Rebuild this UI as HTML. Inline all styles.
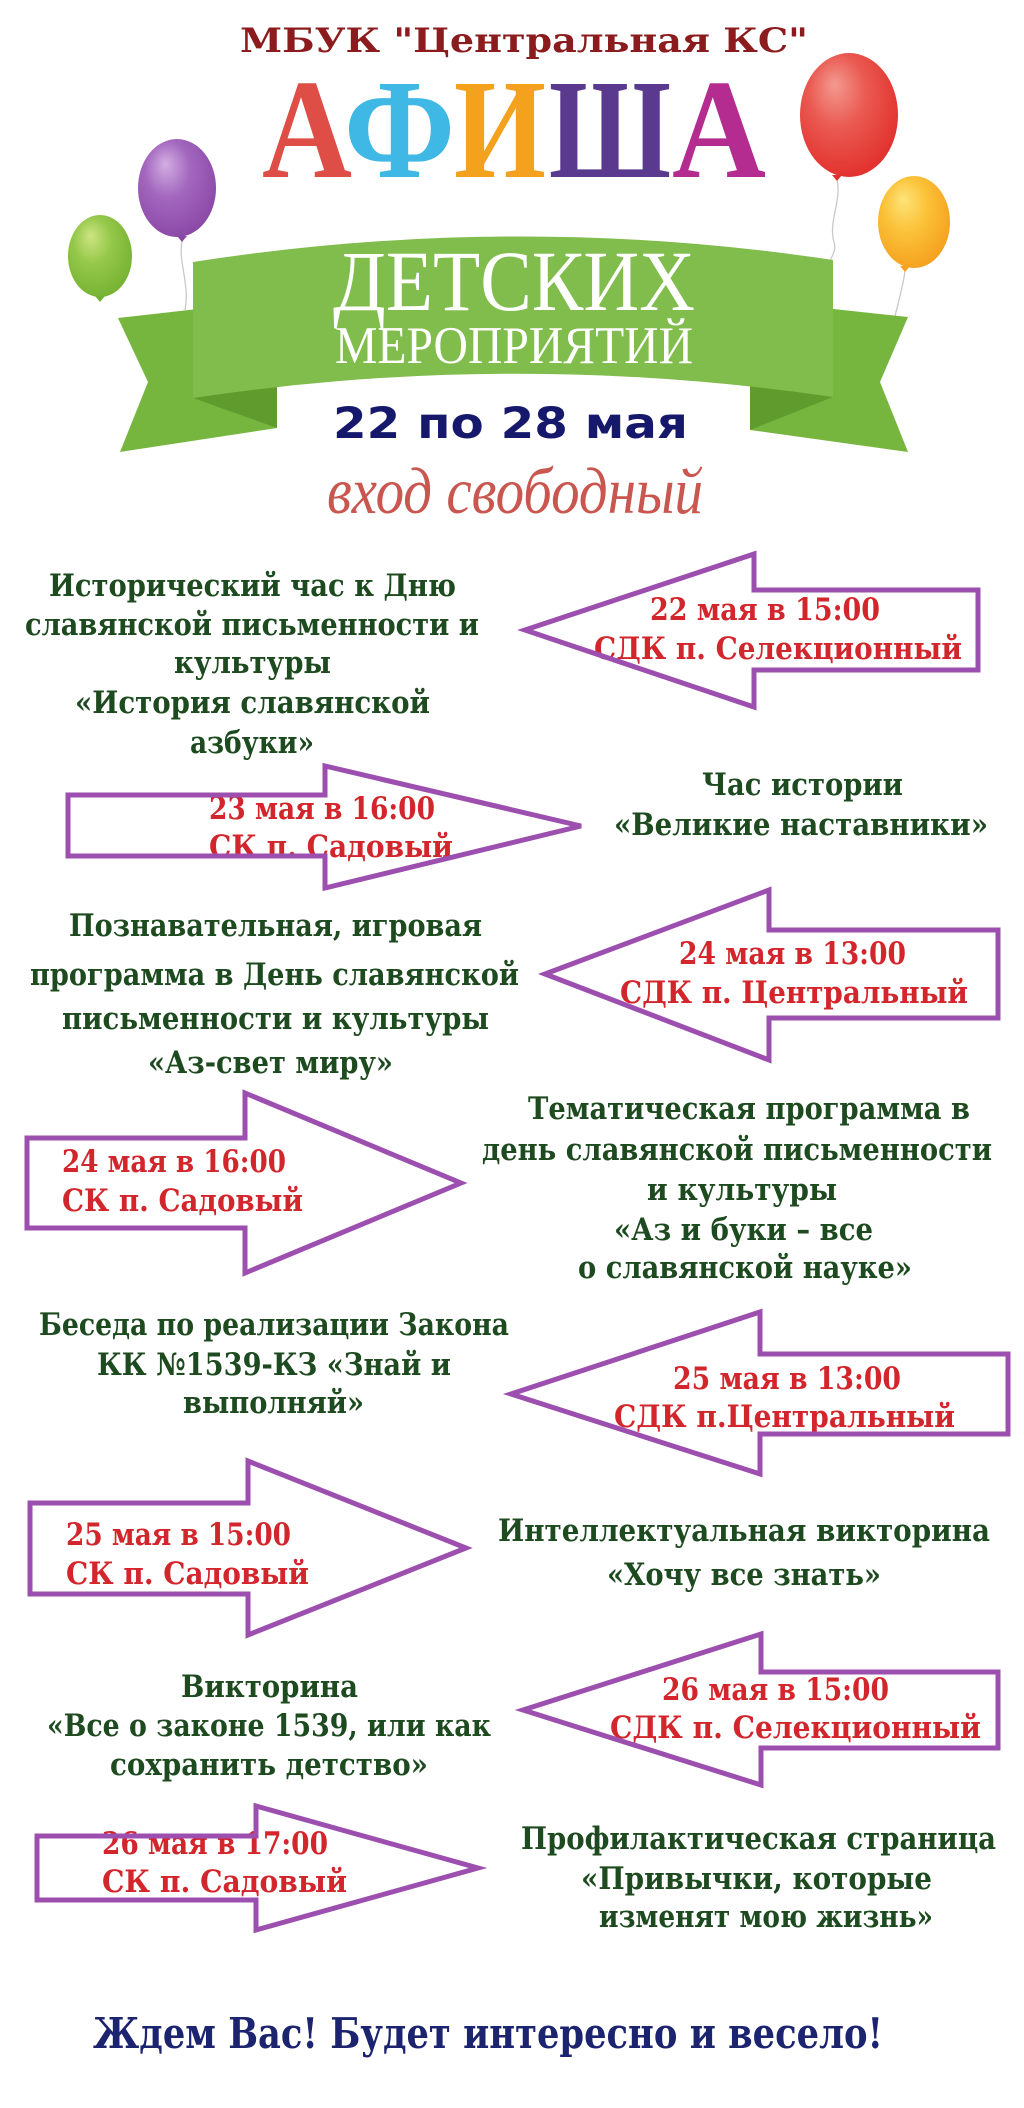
<!DOCTYPE html>
<html lang="ru">
<head>
<meta charset="utf-8">
<style>
html,body{margin:0;padding:0;background:#fff;}
svg{display:block;}
.g{font-family:"DejaVu Serif","Liberation Serif",serif;font-weight:bold;font-size:31px;fill:#1d4a1f;}
.r{font-family:"DejaVu Serif","Liberation Serif",serif;font-weight:bold;font-size:31px;fill:#d3262c;}
.arr{fill:none;stroke:#9c4fae;stroke-width:5;stroke-linejoin:miter;}
</style>
</head>
<body>
<svg xmlns="http://www.w3.org/2000/svg" width="1024" height="2108" viewBox="0 0 1024 2108">
<defs>
<radialGradient id="gp" cx="0.42" cy="0.38" r="0.65" fx="0.35" fy="0.25">
<stop offset="0" stop-color="#d2aee2"/><stop offset="0.45" stop-color="#a367be"/><stop offset="1" stop-color="#8a48a6"/>
</radialGradient>
<radialGradient id="gg" cx="0.42" cy="0.38" r="0.65" fx="0.35" fy="0.25">
<stop offset="0" stop-color="#cde582"/><stop offset="0.45" stop-color="#95c84a"/><stop offset="1" stop-color="#76b232"/>
</radialGradient>
<radialGradient id="gr" cx="0.42" cy="0.38" r="0.65" fx="0.35" fy="0.25">
<stop offset="0" stop-color="#f39a90"/><stop offset="0.45" stop-color="#ea5a52"/><stop offset="1" stop-color="#e2302c"/>
</radialGradient>
<radialGradient id="go" cx="0.42" cy="0.38" r="0.65" fx="0.35" fy="0.25">
<stop offset="0" stop-color="#fde47a"/><stop offset="0.45" stop-color="#fbc33a"/><stop offset="1" stop-color="#f5a01e"/>
</radialGradient>
</defs>
<rect width="1024" height="2108" fill="#ffffff"/>

<!-- balloon strings -->
<path d="M182,241 C178,262 190,284 185,310" fill="none" stroke="#c9c9c9" stroke-width="1.3"/>
<path d="M837,180 C842,200 828,222 834,242 C837,252 830,258 829,264" fill="none" stroke="#c9c9c9" stroke-width="1.3"/>
<path d="M905,271 C903,286 899,300 895,316" fill="none" stroke="#c9c9c9" stroke-width="1.3"/>

<!-- balloons -->
<ellipse cx="177" cy="188" rx="39" ry="49" fill="url(#gp)"/>
<polygon points="177,236 187,236 182,242" fill="#8a48a6"/>
<ellipse cx="100" cy="256" rx="32" ry="41" fill="url(#gg)"/>
<polygon points="95,296 105,296 100,302" fill="#76b232"/>
<ellipse cx="849" cy="115" rx="49" ry="62" fill="url(#gr)"/>
<polygon points="832,175 842,175 837,181" fill="#e2302c"/>
<ellipse cx="914" cy="222" rx="36" ry="46" fill="url(#go)"/>
<polygon points="900,266 910,266 905,272" fill="#f5a01e"/>

<!-- ribbon -->
<polygon points="118,318 277,300 277,428 120,452 148,382" fill="#76b63f"/>
<polygon points="908,317 750,300 750,430 908,452 880,382" fill="#76b63f"/>
<polygon points="193,398 277,384 277,428" fill="#5f9c2d"/>
<polygon points="833,397 750,384 750,430" fill="#5f9c2d"/>
<path d="M193,262 Q513,212 833,260 L833,397 Q513,350 193,398 Z" fill="#80bd4c"/>

<!-- header text -->
<text x="240" y="52" font-family="DejaVu Serif, Liberation Serif, serif" font-weight="bold" font-size="34" fill="#8b1b1c" textLength="568" lengthAdjust="spacingAndGlyphs">МБУК "Центральная КС"</text>

<g font-family="Liberation Serif, DejaVu Serif, serif" font-weight="bold" font-size="142">
<text x="262" y="177" fill="#df4d47" textLength="90" lengthAdjust="spacingAndGlyphs">А</text>
<text x="344" y="177" fill="#3fb8e6" textLength="111" lengthAdjust="spacingAndGlyphs">Ф</text>
<text x="454" y="177" fill="#f4a11e" textLength="92" lengthAdjust="spacingAndGlyphs">И</text>
<text x="549" y="177" fill="#5a3a8e" textLength="122" lengthAdjust="spacingAndGlyphs">Ш</text>
<text x="672" y="177" fill="#b52c90" textLength="94" lengthAdjust="spacingAndGlyphs">А</text>
</g>

<text x="333" y="310" font-family="Liberation Serif, serif" font-size="86" fill="#ffffff" textLength="362" lengthAdjust="spacingAndGlyphs">ДЕТСКИХ</text>
<text x="335" y="363" font-family="Liberation Serif, serif" font-size="53" fill="#ffffff" textLength="358" lengthAdjust="spacingAndGlyphs">МЕРОПРИЯТИЙ</text>

<text x="333" y="438" font-family="DejaVu Sans, Liberation Sans, sans-serif" font-weight="bold" font-size="43" fill="#16196b" textLength="355" lengthAdjust="spacingAndGlyphs">22 по 28 мая</text>

<text x="327" y="513" font-family="Liberation Serif, serif" font-style="italic" font-size="66" fill="#c9564f" textLength="376" lengthAdjust="spacingAndGlyphs">вход свободный</text>

<!-- Event 1 -->
<text class="g" x="49" y="596" textLength="407" lengthAdjust="spacingAndGlyphs">Исторический час к Дню</text>
<text class="g" x="25" y="635" textLength="454" lengthAdjust="spacingAndGlyphs">славянской письменности и</text>
<text class="g" x="174" y="673" textLength="157" lengthAdjust="spacingAndGlyphs">культуры</text>
<text class="g" x="75" y="713" textLength="355" lengthAdjust="spacingAndGlyphs">«История славянской</text>
<text class="g" x="190" y="753" textLength="124" lengthAdjust="spacingAndGlyphs">азбуки»</text>
<text class="r" x="650" y="620" textLength="230" lengthAdjust="spacingAndGlyphs">22 мая в 15:00</text>
<text class="r" x="594" y="659" textLength="368" lengthAdjust="spacingAndGlyphs">СДК п. Селекционный</text>

<!-- Event 2 -->
<text class="r" x="209" y="819" textLength="226" lengthAdjust="spacingAndGlyphs">23 мая в 16:00</text>
<text class="r" x="209" y="857" textLength="244" lengthAdjust="spacingAndGlyphs">СК п. Садовый</text>
<text class="g" x="702" y="795" textLength="201" lengthAdjust="spacingAndGlyphs">Час истории</text>
<text class="g" x="614" y="835" textLength="374" lengthAdjust="spacingAndGlyphs">«Великие наставники»</text>

<!-- Event 3 -->
<text class="g" x="69" y="936" textLength="413" lengthAdjust="spacingAndGlyphs">Познавательная, игровая</text>
<text class="g" x="30" y="985" textLength="489" lengthAdjust="spacingAndGlyphs">программа в День славянской</text>
<text class="g" x="62" y="1029" textLength="427" lengthAdjust="spacingAndGlyphs">письменности и культуры</text>
<text class="g" x="148" y="1073" textLength="245" lengthAdjust="spacingAndGlyphs">«Аз-свет миру»</text>
<text class="r" x="679" y="964" textLength="227" lengthAdjust="spacingAndGlyphs">24 мая в 13:00</text>
<text class="r" x="620" y="1003" textLength="348" lengthAdjust="spacingAndGlyphs">СДК п. Центральный</text>

<!-- Event 4 -->
<text class="r" x="62" y="1172" textLength="224" lengthAdjust="spacingAndGlyphs">24 мая в 16:00</text>
<text class="r" x="62" y="1211" textLength="241" lengthAdjust="spacingAndGlyphs">СК п. Садовый</text>
<text class="g" x="528" y="1119" textLength="442" lengthAdjust="spacingAndGlyphs">Тематическая программа в</text>
<text class="g" x="482" y="1160" textLength="510" lengthAdjust="spacingAndGlyphs">день славянской письменности</text>
<text class="g" x="647" y="1200" textLength="190" lengthAdjust="spacingAndGlyphs">и культуры</text>
<text class="g" x="614" y="1240" textLength="259" lengthAdjust="spacingAndGlyphs">«Аз и буки – все</text>
<text class="g" x="578" y="1278" textLength="334" lengthAdjust="spacingAndGlyphs">о славянской науке»</text>

<!-- Event 5 -->
<text class="g" x="39" y="1335" textLength="470" lengthAdjust="spacingAndGlyphs">Беседа по реализации Закона</text>
<text class="g" x="97" y="1375" textLength="354" lengthAdjust="spacingAndGlyphs">КК №1539-КЗ «Знай и</text>
<text class="g" x="183" y="1413" textLength="181" lengthAdjust="spacingAndGlyphs">выполняй»</text>
<text class="r" x="673" y="1389" textLength="228" lengthAdjust="spacingAndGlyphs">25 мая в 13:00</text>
<text class="r" x="614" y="1427" textLength="341" lengthAdjust="spacingAndGlyphs">СДК п.Центральный</text>

<!-- Event 6 -->
<text class="r" x="66" y="1545" textLength="225" lengthAdjust="spacingAndGlyphs">25 мая в 15:00</text>
<text class="r" x="66" y="1584" textLength="243" lengthAdjust="spacingAndGlyphs">СК п. Садовый</text>
<text class="g" x="498" y="1541" textLength="492" lengthAdjust="spacingAndGlyphs">Интеллектуальная викторина</text>
<text class="g" x="607" y="1585" textLength="274" lengthAdjust="spacingAndGlyphs">«Хочу все знать»</text>

<!-- Event 7 -->
<text class="g" x="181" y="1697" textLength="177" lengthAdjust="spacingAndGlyphs">Викторина</text>
<text class="g" x="47" y="1736" textLength="444" lengthAdjust="spacingAndGlyphs">«Все о законе 1539, или как</text>
<text class="g" x="110" y="1775" textLength="318" lengthAdjust="spacingAndGlyphs">сохранить детство»</text>
<text class="r" x="662" y="1700" textLength="227" lengthAdjust="spacingAndGlyphs">26 мая в 15:00</text>
<text class="r" x="610" y="1738" textLength="371" lengthAdjust="spacingAndGlyphs">СДК п. Селекционный</text>

<!-- Event 8 -->
<text class="r" x="102" y="1854" textLength="226" lengthAdjust="spacingAndGlyphs">26 мая в 17:00</text>
<text class="r" x="102" y="1892" textLength="245" lengthAdjust="spacingAndGlyphs">СК п. Садовый</text>
<text class="g" x="521" y="1849" textLength="475" lengthAdjust="spacingAndGlyphs">Профилактическая страница</text>
<text class="g" x="581" y="1889" textLength="351" lengthAdjust="spacingAndGlyphs">«Привычки, которые</text>
<text class="g" x="599" y="1927" textLength="334" lengthAdjust="spacingAndGlyphs">изменят мою жизнь»</text>

<!-- arrows -->
<path class="arr" d="M525,630 L754,554 L754,590 L978,590 L978,670 L754,670 L754,707 Z"/>
<path class="arr" d="M68,795 L325,795 L325,766 L581,826 L325,888 L325,856 L68,856 Z"/>
<path class="arr" d="M545,974 L769,890 L769,930 L998,930 L998,1018 L769,1018 L769,1060 Z"/>
<path class="arr" d="M27,1138 L245,1138 L245,1093 L461,1183 L245,1273 L245,1228 L27,1228 Z"/>
<path class="arr" d="M511,1394 L760,1312 L760,1354 L1008,1354 L1008,1434 L760,1434 L760,1474 Z"/>
<path class="arr" d="M30,1503 L248,1503 L248,1461 L466,1548 L248,1635 L248,1594 L30,1594 Z"/>
<path class="arr" d="M523,1710 L761,1634 L761,1672 L998,1672 L998,1748 L761,1748 L761,1785 Z"/>
<path class="arr" d="M37,1836 L256,1836 L256,1806 L478,1868 L256,1930 L256,1900 L37,1900 Z"/>

<!-- footer -->
<text x="93" y="2048" font-family="DejaVu Serif, Liberation Serif, serif" font-weight="bold" font-size="42" fill="#1c2470" textLength="790" lengthAdjust="spacingAndGlyphs">Ждем Вас! Будет интересно и весело!</text>
</svg>
</body>
</html>
